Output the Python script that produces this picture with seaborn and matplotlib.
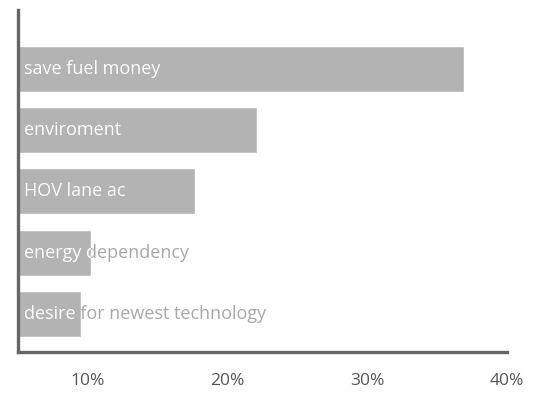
import matplotlib
matplotlib.use("Agg")
import matplotlib.pyplot as plt
from matplotlib.transforms import Bbox, TransformedBbox
import seaborn as sns
import pandas as pd

reasons = ["save fuel money", "enviroment", "HOV lane ac", "energy dependency",
           "desire for newest technology"]
shares = [36.9, 22.1, 17.7, 10.2, 9.5]
tick_values = [10, 20, 30, 40]
tick_labels = ["10%", "20%", "30%", "40%"]

sns.set_style("white")
plt.rcParams["font.family"] = ["Open Sans", "DejaVu Sans"]

df = pd.DataFrame({"reason": reasons, "share": shares})

fig = plt.figure(figsize=(5.33, 3.93), dpi=100)
ax = fig.add_axes([18 / 533, 41 / 393, 489 / 533, 342 / 393])

sns.barplot(data=df, x="share", y="reason", orient="h", color="#b3b3b3",
            saturation=1, width=0.75, ax=ax)

ax.set_xlim(5, 40)
ax.set_ylim(4.62, -0.96)
ax.set_xticks(tick_values)
ax.set_xticklabels(tick_labels)
ax.set_yticks([])
ax.set_xlabel("")
ax.set_ylabel("")
ax.tick_params(axis="x", length=0, pad=15, labelsize=12.5, labelcolor="#555555")

for side in ["top", "right"]:
    ax.spines[side].set_visible(False)
for side in ["left", "bottom"]:
    ax.spines[side].set_linewidth(2.4)
    ax.spines[side].set_color("#666666")
    ax.spines[side].set_zorder(5)

# Labels sit at the bar's base: white over the bar, light grey where they run past it
for bar, label in zip(ax.patches, reasons):
    y = bar.get_y() + bar.get_height() / 2
    ax.text(5.4, y, label, color="#a8a8a8", fontsize=13, va="center", ha="left")
    inner = ax.text(5.4, y, label, color="white", fontsize=13, va="center", ha="left")
    box = Bbox.from_extents(bar.get_x(), bar.get_y(),
                            bar.get_x() + bar.get_width(), bar.get_y() + bar.get_height())
    inner.set_clip_box(TransformedBbox(box, ax.transData))
    inner.set_clip_on(True)

fig.savefig("out.png", dpi=100)
